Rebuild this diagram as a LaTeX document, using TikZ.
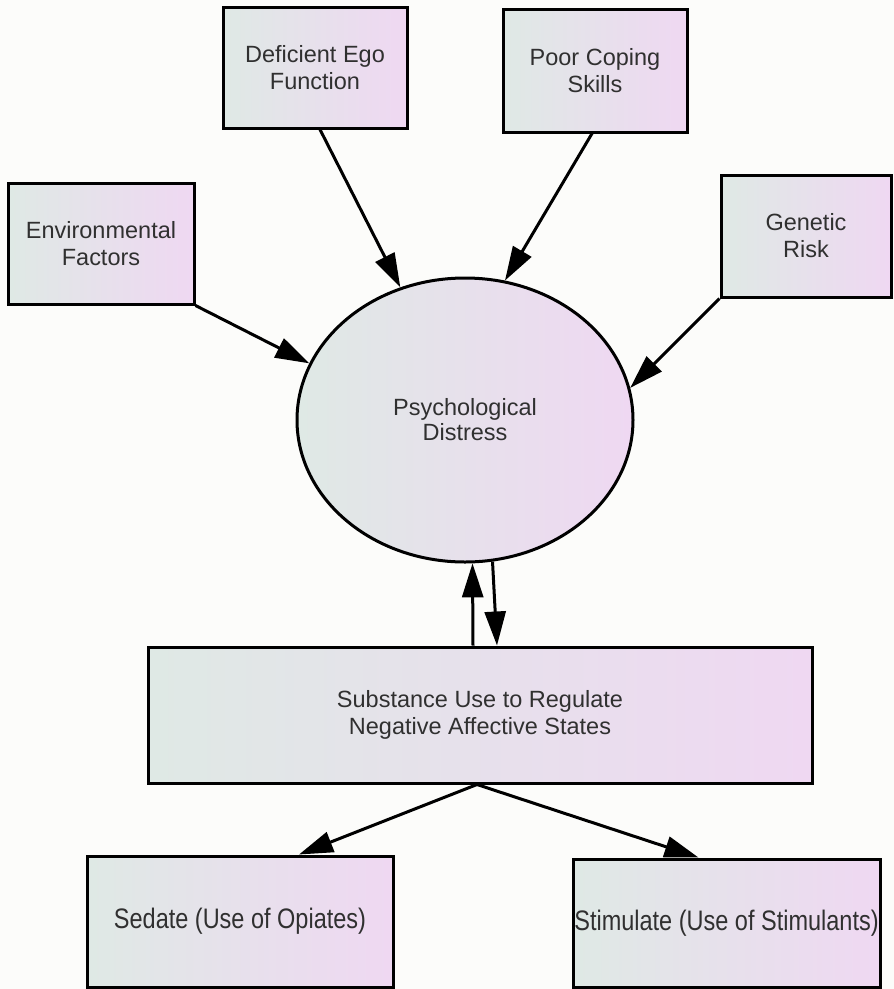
\documentclass[tikz,border=0pt]{standalone}
\usepackage{fontspec}
\setmainfont{Liberation Sans}
\usetikzlibrary{shapes.geometric,arrows.meta}
\definecolor{gl}{HTML}{DFE9E5}
\definecolor{pr}{HTML}{EFD8F2}
\definecolor{bg}{HTML}{FCFCFA}
\definecolor{tx}{HTML}{303030}
\begin{document}
\begin{tikzpicture}[x=1pt,y=-1pt,
  box/.style={draw=black, line width=3pt, rectangle, left color=gl, right color=pr,
    align=center, text=tx, inner sep=0pt, font=\fontsize{23.5}{27}\selectfont},
  oval/.style={draw=black, line width=3pt, ellipse, left color=gl, right color=pr,
    align=center, text=tx, inner sep=0pt, font=\fontsize{23.5}{25}\selectfont},
  arr/.style={line width=3pt, -{Triangle[length=34pt,width=21pt]}}]
\fill[bg] (0,0) rectangle (894,989);
\useasboundingbox (0,0) rectangle (894,989);

\node[box, minimum width=184pt, minimum height=121pt] (def) at (315,67.5) {Deficient Ego\\Function};
\node[box, minimum width=184pt, minimum height=123pt] (poor) at (595,70.5) {Poor Coping\\Skills};
\node[box, minimum width=186pt, minimum height=121pt] (env) at (101,243.5) {Environmental\\Factors};
\node[box, minimum width=170pt, minimum height=122pt] (gen) at (806,236) {Genetic\\Risk};
\node[oval, minimum width=336pt, minimum height=284pt] (pd) at (465,420) {Psychological\\Distress};
\node[box, minimum width=664pt, minimum height=136pt] (sub) at (480,715) {Substance Use to Regulate\\Negative Affective States};
\node[box, minimum width=306pt, minimum height=131pt] (sed) at (240,921.5) {\scalebox{1}[1.2]{Sedate (Use of Opiates)}};
\node[box, minimum width=307pt, minimum height=128pt] (stim) at (726.5,923) {\scalebox{1}[1.2]{Stimulate (Use of Stimulants)}};

\draw[arr] ([xshift=5pt]def.south) -- (pd.116);
\draw[arr] ([xshift=-3pt]poor.south) -- (pd.74);
\draw[arr] (env.south east) -- (pd.160);
\draw[arr] (gen.south west) -- (pd.11);
\draw[arr] ([xshift=-7pt]sub.north) -- (pd.273);
\draw[arr] (pd.281) -- ([xshift=17pt]sub.north);
\draw[arr] ([xshift=-3pt]sub.south) -- ([xshift=59pt]sed.north);
\draw[arr] ([xshift=-3pt]sub.south) -- ([xshift=-28pt]stim.north);
\end{tikzpicture}
\end{document}
